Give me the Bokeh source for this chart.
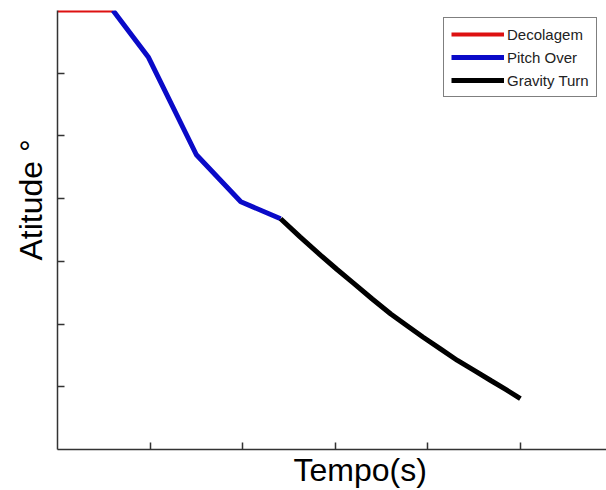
from bokeh.plotting import figure
from bokeh.models import FixedTicker, Range1d, Legend, LegendItem, Title
from bokeh.embed import file_html
from bokeh.resources import INLINE

# Data (axis units are tick steps)
decolagem_t = [0.0, 0.60]
decolagem_a = [7.0, 7.0]

pitch_t = [0.60, 0.98, 1.50, 1.98, 2.41]
pitch_a = [7.0, 6.26, 4.70, 3.95, 3.68]

gravity_t = [2.41, 2.62, 2.84, 3.02, 3.20, 3.40, 3.60, 3.78, 3.95, 4.14, 4.32, 4.50, 4.68, 4.85, 5.00]
gravity_a = [3.68, 3.39, 3.10, 2.87, 2.65, 2.40, 2.16, 1.97, 1.79, 1.60, 1.42, 1.26, 1.10, 0.95, 0.81]

x_ticks = [1, 2, 3, 4, 5]
y_ticks = [1, 2, 3, 4, 5, 6]

p = figure(width=606, height=490, output_backend="svg", toolbar_location=None,
           x_range=Range1d(0, 5.93), y_range=Range1d(0, 7.0))
p.min_border_left = 57
p.min_border_right = 0
p.min_border_top = 10
p.min_border_bottom = 41
p.outline_line_color = None
p.grid.visible = False
p.background_fill_color = "white"
p.border_fill_color = "white"

for ax, ticks in ((p.xaxis[0], x_ticks), (p.yaxis[0], y_ticks)):
    ax.ticker = FixedTicker(ticks=ticks)
    ax.major_label_text_font_size = "0px"
    ax.major_label_text_color = None
    ax.major_tick_in = 7
    ax.major_tick_out = 0
    ax.minor_tick_line_color = None
    ax.axis_line_color = "#333333"
    ax.axis_line_width = 1.5
    ax.major_tick_line_color = "#333333"
    ax.major_tick_line_width = 1.5
    ax.major_label_standoff = 0

r1 = p.line(decolagem_t, decolagem_a, line_color="#dd1111", line_width=4)
r2 = p.line(pitch_t, pitch_a, line_color="#0a0ac8", line_width=5)
r3 = p.line(gravity_t, gravity_a, line_color="black", line_width=5)

legend = Legend(items=[LegendItem(label="Decolagem", renderers=[r1]),
                       LegendItem(label="Pitch Over", renderers=[r2]),
                       LegendItem(label="Gravity Turn", renderers=[r3])],
                location=(386, 352))
legend.label_text_font = "Liberation Sans"
legend.label_text_font_size = "15px"
legend.label_text_color = "#222222"
legend.glyph_width = 53
legend.glyph_height = 18
legend.label_height = 18
legend.label_standoff = 3
legend.spacing = 5
legend.padding = 7
legend.margin = 0
legend.border_line_color = "black"
legend.border_line_width = 1
legend.background_fill_color = "white"
legend.background_fill_alpha = 1
p.add_layout(legend, "center")

xt = Title(text="Tempo(s)", align="left", offset=236, text_font="Liberation Sans",
           text_font_size="32px", text_font_style="normal", text_color="black",
           standoff=0)
yt = Title(text="Atitude °", align="left", offset=189, text_font="Liberation Sans",
           text_font_size="32px", text_font_style="normal", text_color="black",
           standoff=17)
p.add_layout(xt, "below")
p.add_layout(yt, "left")

open("out.html", "w").write(file_html(p, INLINE))
